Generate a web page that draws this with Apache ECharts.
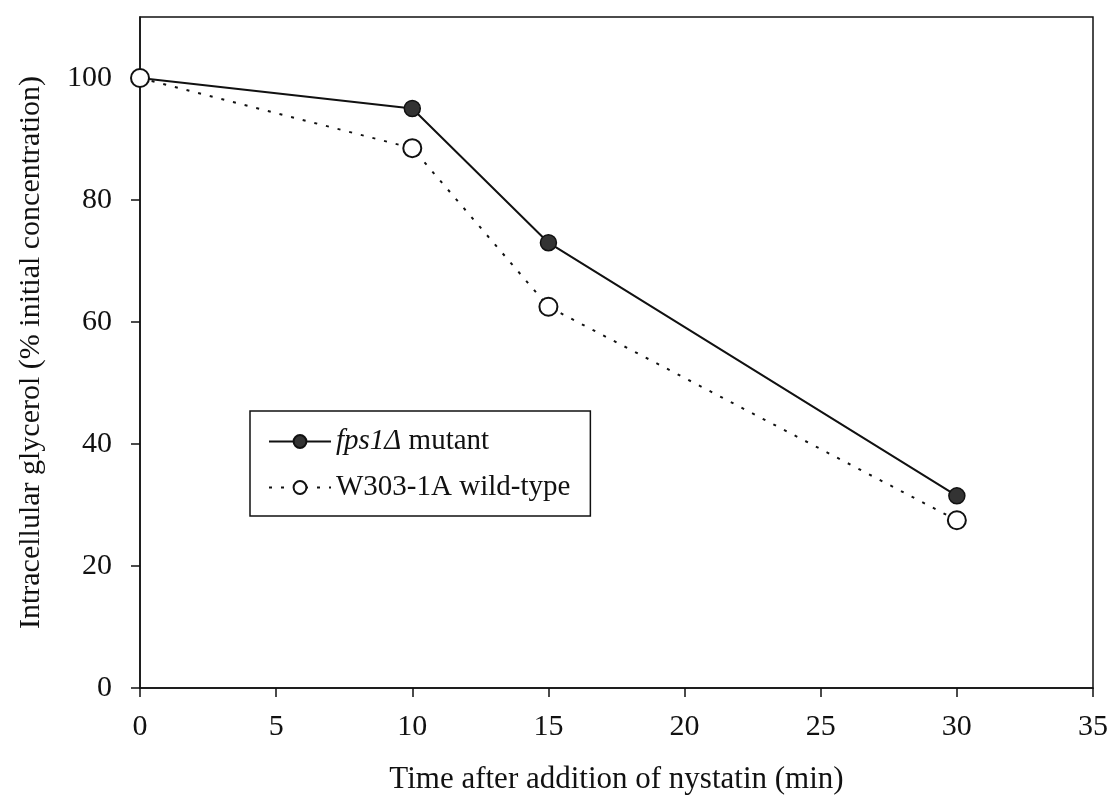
<!DOCTYPE html>
<html>
<head>
<meta charset="utf-8">
<script src="https://cdn.jsdelivr.net/npm/echarts@6/dist/echarts.min.js"></script>
<style>
  html, body { margin: 0; padding: 0; background: #fff; }
  #chart { width: 1119px; height: 803px; }
</style>
</head>
<body>
<div id="chart"></div>
<script>
// time after nystatin (min)
const times = [0, 10, 15, 30]
// intracellular glycerol, % of initial
const mutantValues = [100, 95, 73, 31.5]
const wildTypeValues = [100, 88.5, 62.5, 27.5]
const xTicks = [0, 5, 10, 15, 20, 25, 30, 35]
const yTicks = [0, 20, 40, 60, 80, 100]

const font = 'Liberation Serif'
const black = '#111'

const pairs = (xs, ys) => xs.map((x, i) => [x, ys[i]])

const chart = echarts.init(document.getElementById('chart'))
chart.setOption({
  animation: false,
  grid: { left: 140, right: 26, top: 17, bottom: 115, show: true, borderColor: black, borderWidth: 1.5 },
  legend: {
    left: 250,
    top: 411,
    orient: 'vertical',
    backgroundColor: '#fff',
    borderColor: black,
    borderWidth: 1.5,
    borderRadius: 0,
    padding: [16, 20, 14, 18],
    itemWidth: 62,
    itemHeight: 16,
    itemGap: 17,
    textStyle: {
      fontFamily: font,
      fontSize: 29,
      color: black,
      rich: {
        it: { fontFamily: font, fontSize: 29, fontStyle: 'italic', color: black }
      }
    },
    formatter: function (name) {
      if (name === 'mutant') return '{it|fps1Δ} mutant'
      return name
    },
    data: ['mutant', 'W303-1A wild-type']
  },
  xAxis: {
    type: 'value',
    min: 0,
    max: 35,
    interval: 5,
    name: 'Time after addition of nystatin (min)',
    nameLocation: 'middle',
    nameGap: 76,
    nameTextStyle: { fontFamily: font, fontSize: 31, color: black },
    axisLine: { onZero: false, lineStyle: { color: black, width: 1.5 } },
    axisTick: { show: true, inside: false, length: 9, lineStyle: { color: black, width: 1.5 }, customValues: xTicks },
    axisLabel: { margin: 24, fontFamily: font, fontSize: 30, color: black, customValues: xTicks },
    splitLine: { show: false }
  },
  yAxis: {
    type: 'value',
    min: 0,
    max: 110,
    interval: 20,
    name: 'Intracellular glycerol (% initial concentration)',
    nameLocation: 'middle',
    nameGap: 94,
    nameTextStyle: { fontFamily: font, fontSize: 30, color: black },
    axisLine: { onZero: false, lineStyle: { color: black, width: 1.5 } },
    axisTick: { show: true, inside: false, length: 9, lineStyle: { color: black, width: 1.5 }, customValues: yTicks },
    axisLabel: { margin: 28, fontFamily: font, fontSize: 30, color: black, customValues: yTicks },
    splitLine: { show: false }
  },
  series: [
    {
      name: 'mutant',
      type: 'line',
      data: pairs(times, mutantValues),
      symbol: 'circle',
      symbolSize: 16,
      lineStyle: { color: black, width: 2 },
      itemStyle: { color: '#333', borderColor: black, borderWidth: 1.5 },
      z: 2
    },
    {
      name: 'W303-1A wild-type',
      type: 'line',
      data: pairs(times, wildTypeValues),
      symbol: 'circle',
      symbolSize: 18,
      lineStyle: { color: black, width: 2, type: [3, 9] },
      itemStyle: { color: '#fff', borderColor: black, borderWidth: 2 },
      z: 3
    }
  ]
})
</script>
</body>
</html>
